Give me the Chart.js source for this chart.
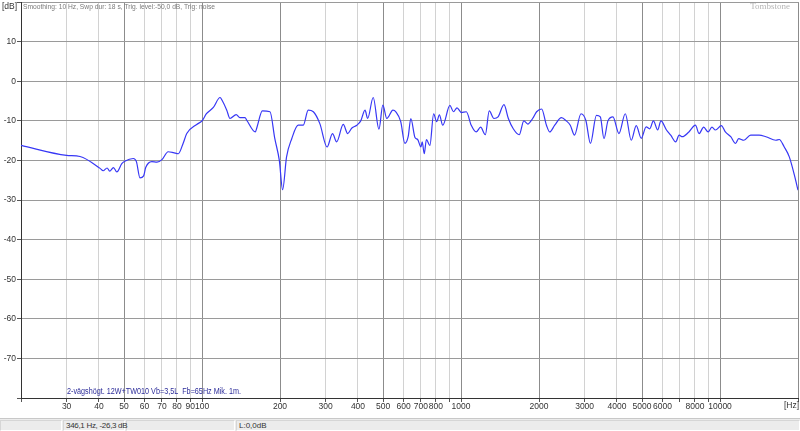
<!DOCTYPE html>
<html>
<head>
  <meta charset="utf-8">
  <title>Frekvensgång</title>
  <script src="https://cdn.jsdelivr.net/npm/chart.js"></script>
  <style>
    body { margin: 0; background: #fff; }
    #wrap { position: relative; width: 800px; height: 431px; overflow: hidden; }
    #chartBox { position: absolute; left: 0; top: -4px; width: 800px; height: 422px; }
    #status { position: absolute; left: 0; top: 418px; width: 800px; height: 13px; background: #ececec;
      border-top: 1px solid #c8c8c8; font: 8px "Liberation Sans", sans-serif; color: #333; }
    #status div { position: absolute; top: 1px; height: 11px; line-height: 10px; border: 1px solid #d6d6d6;
      border-right-color: #fff; border-bottom-color: #fff; box-sizing: border-box; padding-left: 2px;
      white-space: nowrap; }
    #status .txt { letter-spacing: -0.3px; position: relative; z-index: 2; }
  </style>
</head>
<body>
<div id="wrap">
  <div id="chartBox"><canvas id="myChart"></canvas></div>
  <div id="status">
    <div style="left:0;width:62px"></div>
    <div style="left:126px;width:109px"></div>
    <div style="left:63px;width:62px"><span class="txt">346,1 Hz, -26,3 dB</span></div>
    <div style="left:236px;width:564px">L:0,0dB</div>
  </div>
</div>

<script>
  // mätdata
  const freqs = [20, 30, 33.8, 40.4, 41.5, 43, 44, 45.5, 46.9, 49, 50.3, 54.3, 55.8, 57.6, 59.5, 60.6, 64, 67, 70,
    74, 77.5, 81, 84.5, 87.3, 95.4, 100, 104, 110.6, 117.4, 119.5, 124.6, 128.2, 135.5, 140, 146.5, 149,
    160.6, 163, 171, 183, 191, 198.8, 204.7, 212, 222, 235, 246, 257, 269, 285, 304, 319, 331, 351, 365,
    379, 396, 410, 426, 436, 458, 482, 499, 517, 546, 560, 585, 607, 625, 640, 664, 680, 700, 708, 721,
    735, 758, 784, 805, 825, 850, 906, 935, 965, 1003, 1048, 1095, 1144, 1190, 1241, 1285, 1340, 1390,
    1465, 1523, 1591, 1677, 1748, 1810, 1890, 1958, 2047, 2137, 2200, 2300, 2442, 2550, 2641, 2742, 2905,
    3034, 3160, 3332, 3450, 3564, 3691, 3860, 4070, 4307, 4542, 4748, 4962, 5185, 5350, 5531, 5744, 5914,
    6212, 6450, 6745, 6950, 7151, 7582, 8036, 8300, 8645, 9000, 9304, 9600, 10120, 10485, 11000, 11480,
    11800, 12360, 13130, 14150, 15030, 16430, 16930, 17700, 18510, 19370, 20000];
  const levels = [-16.2, -18.7, -19.0, -22.0, -22.6, -21.9, -22.7, -21.8, -22.9, -20.8, -20.2, -19.5, -20.3, -24.4, -23.9, -21.8, -20.3, -20.4, -19.8,
    -17.8, -18.0, -18.3, -15.7, -13.2, -10.9, -10.0, -8.2, -6.6, -4.1, -4.8, -7.3, -9.4, -8.4, -9.2, -9.2, -9.9,
    -12.8, -11.6, -7.5, -7.7, -14.5, -20.0, -27.4, -19.1, -14.5, -11.1, -11.1, -7.3, -7.7, -10.7, -16.6, -13.2, -15.3, -10.9, -13.2,
    -11.8, -11.1, -10.0, -7.3, -9.4, -4.1, -12.1, -6.0, -9.4, -7.3, -7.7, -10.2, -15.7, -14.0, -9.4, -14.2, -14.7, -16.6, -15.3, -18.3,
    -14.7, -16.2, -8.2, -10.2, -8.5, -11.1, -6.1, -7.7, -6.7, -7.9, -7.7, -11.1, -12.8, -11.6, -13.5, -7.5, -9.4, -9.0,
    -5.9, -9.4, -12.0, -13.5, -10.0, -10.8, -9.4, -7.7, -7.0, -11.1, -12.8, -11.1, -9.2, -10.0, -11.1, -13.6, -8.2,
    -9.9, -15.7, -8.6, -9.0, -14.5, -10.0, -9.0, -13.2, -8.2, -14.9, -11.2, -14.4, -11.5, -12.0, -10.0, -12.3, -10.0,
    -12.3, -13.6, -15.3, -13.6, -14.0, -12.8, -11.1, -13.2, -11.6, -12.8, -11.6, -12.3, -11.2, -12.8, -14.0, -15.7,
    -14.5, -14.9, -13.6, -13.6, -14.0, -14.9, -14.7, -16.6, -19.1, -23.7, -27.5];

  const xTicks = [20, 30, 40, 50, 60, 70, 80, 90, 100, 200, 300, 400, 500, 600, 700, 800, 900,
    1000, 2000, 3000, 4000, 5000, 6000, 7000, 8000, 9000, 10000, 20000];
  const xLabels = [30, 40, 50, 60, 70, 80, 90, 100, 200, 300, 400, 500, 600, 700, 800,
    1000, 2000, 3000, 4000, 5000, 6000, 8000, 10000];
  const yLabels = [10, 0, -10, -20, -30, -40, -50, -60, -70];

  const headerText = 'Smoothing: 10 Hz, Swp dur: 18 s, Trig. level:-50,0 dB, Trig: noise';
  const legendText = '2-vägshögt. 12W+TW010 Vb=3,5L  Fb=65Hz Mik. 1m.';

  function isMajor(v) {
    const m = Math.round(v / Math.pow(10, Math.floor(Math.log10(v) + 1e-9)));
    return m === 1 || m === 2 || m === 5;
  }

  // canvas ligger 4 px högre än sidan
  const off = 4;
  const texts = {
    id: 'texts',
    afterDraw(chart) {
      const c = chart.ctx;
      c.save();
      c.textBaseline = 'middle';
      c.font = '8px "Liberation Sans", sans-serif';
      c.fillStyle = '#7a7a7a';
      c.textAlign = 'left';
      c.fillText(headerText, 23, 7 + off, 192);
      c.fillStyle = '#b5b5b5';
      c.font = '9px "Liberation Serif", serif';
      c.textAlign = 'right';
      c.fillText('Tombstone', 790, 7 + off);
      c.fillStyle = '#333';
      c.font = '8.5px "Liberation Sans", sans-serif';
      c.textAlign = 'left';
      c.fillText('[dB]', 2, 7 + off);
      c.textAlign = 'right';
      c.fillText('[Hz]', 799, 406 + off);
      c.fillStyle = '#2e2e9a';
      c.textAlign = 'left';
      c.fillText(legendText, 67, 392 + off, 174);
      c.restore();
    }
  };

  const ctx = document.getElementById('myChart').getContext('2d');
  const myChart = new Chart(ctx, {
    type: 'line',
    data: {
      datasets: [{
        data: freqs.map((f, i) => ({ x: f, y: levels[i] })),
        borderColor: 'rgb(55, 55, 245)',
        borderWidth: 1.2,
        pointRadius: 0,
        cubicInterpolationMode: 'monotone',
        fill: false
      }]
    },
    options: {
      responsive: true,
      maintainAspectRatio: false,
      animation: false,
      events: [],
      layout: { padding: { top: 0, right: 2, left: 0, bottom: 0 } },
      plugins: { legend: { display: false }, tooltip: { enabled: false } },
      scales: {
        x: {
          type: 'logarithmic',
          min: 20,
          max: 20000,
          afterBuildTicks: s => { s.ticks = xTicks.map(v => ({ value: v })); },
          afterFit: s => { s.height = 20; },
          ticks: {
            autoSkip: false,
            maxRotation: 0,
            padding: 0,
            color: '#333',
            font: { family: 'Liberation Sans', size: 8.5 },
            callback: v => xLabels.includes(v) ? String(v) : ''
          },
          grid: {
            color: c => isMajor(c.tick.value) ? '#8c8c8c' : '#d2d2d2',
            tickColor: '#555',
            tickLength: 4,
            lineWidth: 1
          },
          border: { color: '#333', width: 1 }
        },
        y: {
          min: -80,
          max: 20,
          afterFit: s => { s.width = 21; },
          ticks: {
            stepSize: 10,
            padding: 1,
            color: '#333',
            font: { family: 'Liberation Sans', size: 8.5 },
            callback: v => yLabels.includes(v) ? String(v) : ''
          },
          grid: {
            color: '#9a9a9a',
            tickColor: '#555',
            tickLength: 4,
            lineWidth: 1
          },
          border: { color: '#333', width: 1 }
        }
      }
    },
    plugins: [texts]
  });
</script>
</body>
</html>
